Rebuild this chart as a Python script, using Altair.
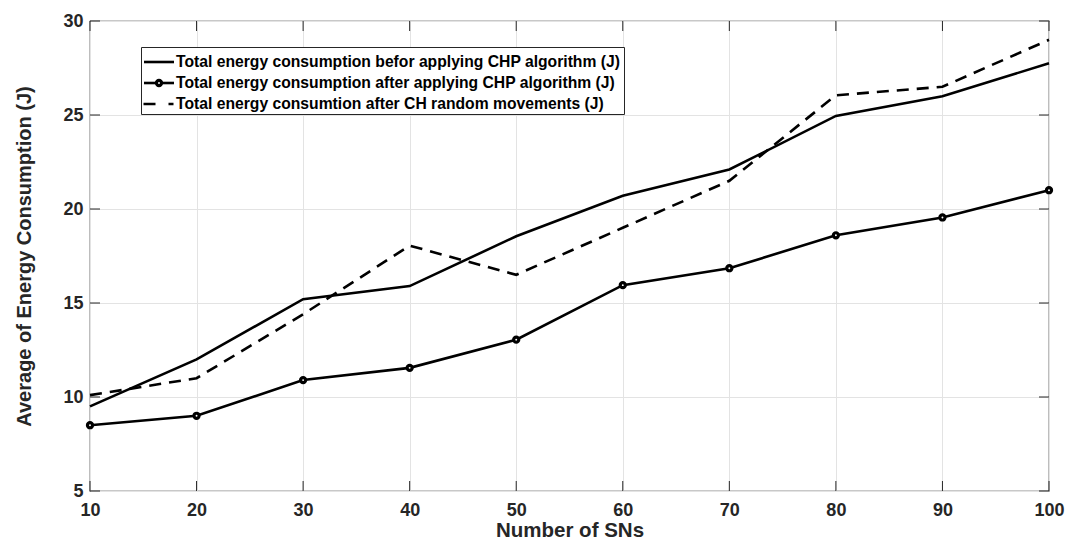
import altair as alt
import pandas as pd

# ---- data ----
sns = [10, 20, 30, 40, 50, 60, 70, 80, 90, 100]
before_chp = [9.5, 12.0, 15.2, 15.9, 18.55, 20.7, 22.1, 24.95, 26.0, 27.75]
after_chp = [8.5, 9.0, 10.9, 11.55, 13.05, 15.95, 16.85, 18.6, 19.55, 21.0]
random_moves = [10.1, 11.0, 14.4, 18.05, 16.5, 19.0, 21.5, 26.05, 26.5, 29.0]

legend_labels = [
    "Total energy consumption befor applying CHP algorithm (J)",
    "Total energy consumption after applying CHP algorithm (J)",
    "Total energy consumtion after CH random movements (J)",
]
x_ticks = [10, 20, 30, 40, 50, 60, 70, 80, 90, 100]
y_ticks = [5, 10, 15, 20, 25, 30]

W, H = 959, 470
FONT = "Liberation Sans"
AXC = "#262626"

df = pd.DataFrame({
    "x": sns * 3,
    "y": before_chp + after_chp + random_moves,
    "s": ["before"] * 10 + ["after"] * 10 + ["random"] * 10,
})

xs = alt.Scale(domain=[10, 100], nice=False, zero=False)
ys = alt.Scale(domain=[5, 30], nice=False, zero=False)

xaxis = alt.Axis(values=x_ticks, title="Number of SNs", labelFont=FONT, labelFontWeight="bold",
                 labelFontSize=18, labelColor=AXC, labelPadding=10, titleFont=FONT,
                 titleFontWeight="bold", titleFontSize=20.5, titleColor=AXC, titlePadding=1,
                 ticks=False, domain=False, grid=True, gridColor="#e3e3e3", gridWidth=1,
                 labelFlush=False)
yaxis = alt.Axis(values=y_ticks, title="Average of Energy Consumption (J)", labelFont=FONT,
                 labelFontWeight="bold", labelFontSize=18, labelColor=AXC, labelPadding=7,
                 titleFont=FONT, titleFontWeight="bold", titleFontSize=20, titleColor=AXC,
                 titlePadding=28, ticks=False, domain=False, grid=True, gridColor="#e3e3e3",
                 gridWidth=1, labelFlush=False)

base = alt.Chart(df)

line_before = base.transform_filter(alt.datum.s == "before").mark_line(
    color="black", strokeWidth=2.6).encode(
    x=alt.X("x:Q", scale=xs, axis=xaxis), y=alt.Y("y:Q", scale=ys, axis=yaxis))
line_after = base.transform_filter(alt.datum.s == "after").mark_line(
    color="black", strokeWidth=2.6).encode(x=alt.X("x:Q", scale=xs), y=alt.Y("y:Q", scale=ys))
pts_after = base.transform_filter(alt.datum.s == "after").mark_point(
    shape="circle", filled=False, fill="white", fillOpacity=1, color="black", opacity=1,
    strokeWidth=3.2, size=26).encode(x=alt.X("x:Q", scale=xs), y=alt.Y("y:Q", scale=ys))
line_random = base.transform_filter(alt.datum.s == "random").mark_line(
    color="black", strokeWidth=2.6, strokeDash=[12, 8]).encode(
    x=alt.X("x:Q", scale=xs), y=alt.Y("y:Q", scale=ys))

# inward ticks on all four sides
xt = alt.Chart(pd.DataFrame({"t": x_ticks}))
yt = alt.Chart(pd.DataFrame({"t": y_ticks}))
tick_bottom = xt.mark_rule(color=AXC, strokeWidth=1).encode(
    x=alt.X("t:Q", scale=xs), y=alt.value(H), y2=alt.value(H - 10))
tick_top = xt.mark_rule(color=AXC, strokeWidth=1).encode(
    x=alt.X("t:Q", scale=xs), y=alt.value(0), y2=alt.value(10))
tick_left = yt.mark_rule(color=AXC, strokeWidth=1).encode(
    y=alt.Y("t:Q", scale=ys), x=alt.value(0), x2=alt.value(10))
tick_right = yt.mark_rule(color=AXC, strokeWidth=1).encode(
    y=alt.Y("t:Q", scale=ys), x=alt.value(W - 10), x2=alt.value(W))

# manual legend
one = alt.Chart(pd.DataFrame({"a": [0]}))
leg_box = one.mark_rect(fill="white", stroke=AXC, strokeWidth=1).encode(
    x=alt.value(51.5), x2=alt.value(534.5), y=alt.value(26.5), y2=alt.value(93.5))
rows_y = [41, 62, 83]
leg_l1 = one.mark_rule(color="black", strokeWidth=2.6).encode(
    x=alt.value(54), x2=alt.value(84), y=alt.value(rows_y[0]))
leg_l2 = one.mark_rule(color="black", strokeWidth=2.6).encode(
    x=alt.value(54), x2=alt.value(84), y=alt.value(rows_y[1]))
leg_p2 = one.mark_point(shape="circle", filled=False, fill="white", fillOpacity=1, color="black",
                        opacity=1, strokeWidth=3.2, size=26).encode(
    x=alt.value(69), y=alt.value(rows_y[1]))
leg_l3 = one.mark_rule(color="black", strokeWidth=2.6, strokeDash=[12, 13]).encode(
    x=alt.value(53.5), x2=alt.value(83.5), y=alt.value(rows_y[2]))
leg_text = alt.Chart(pd.DataFrame({"label": legend_labels, "row": rows_y})).mark_text(
    align="left", baseline="middle", font=FONT, fontWeight="bold", fontSize=15.7, color="black",
    dx=0).encode(x=alt.value(86), y=alt.Y("row:Q", scale=None), text="label:N")

chart = alt.layer(
    line_before, line_after, line_random, pts_after,
    tick_bottom, tick_top, tick_left, tick_right,
    leg_box, leg_l1, leg_l2, leg_p2, leg_l3, leg_text,
).properties(
    width=W, height=H,
    autosize=alt.AutoSizeParams(type="none"),
    padding={"left": 90, "top": 21, "right": 19, "bottom": 51},
    background="white",
).configure_view(stroke=AXC, strokeWidth=1.2)

chart.save("out.html", embed_options={"renderer": "svg", "actions": False})
